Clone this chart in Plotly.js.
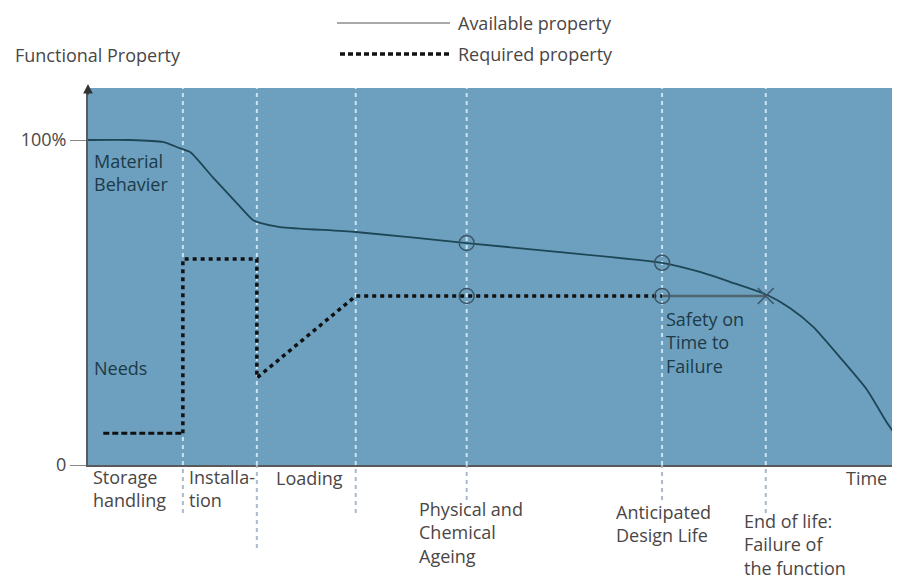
<!DOCTYPE html>
<html>
<head>
<meta charset="utf-8">
<script src="https://cdn.plot.ly/plotly-3.0.1.min.js"></script>
<style>
  body { margin: 0; background: #fff; }
  #chart { width: 901px; height: 581px; }
</style>
</head>
<body>
<div id="chart"></div>
<script>
// time axis is 0..100 (arbitrary units), property axis 0..100 %
const availableX = [0, 5.2, 9.3, 11.4, 12.7, 15.5, 18.5, 20.5, 21.4, 23.9, 33.3, 47.1, 58.7, 71.4, 76.1, 79.9, 84.5, 87.3, 90.2, 93.5, 96.9, 99.4, 101.1];
const availableY = [100, 100, 99.4, 97.5, 96.3, 88.6, 80.6, 75.4, 74.5, 73.2, 71.7, 68.3, 65.5, 62.2, 59.4, 56.3, 52.3, 48.3, 42.5, 33.2, 23.1, 12.9, 7.1];

const requiredX = [1.9, 11.8, 11.8, 21.0, 21.0, 33.3, 71.4];
const requiredY = [9.8, 9.8, 63.4, 63.4, 26.8, 52.0, 52.0];

const safetyX = [71.4, 84.3];
const safetyY = [52.0, 52.0];

const circleX = [47.1, 71.4, 47.1, 71.4];
const circleY = [68.3, 62.2, 52.0, 52.0];

const failureX = [84.3];
const failureY = [52.0];

const stageX = [11.8, 21.0, 33.3, 47.1, 71.4, 84.3];
const stageLabels = ["Storage<br>handling", "Installa-<br>tion", "Loading", "Physical and<br>Chemical<br>Ageing", "Anticipated<br>Design Life", "End of life:<br>Failure of<br>the function"];

const yTicks = [0, 100];
const yTickText = ["0", "100%"];

// layout helpers (pixels -> paper)
const plotLeft = 88, plotRight = 892, plotTop = 88, plotBottom = 465;
const px = p => (p - plotLeft) / (plotRight - plotLeft);
const py = p => (plotBottom - p) / (plotBottom - plotTop);
const dropBottom = [513, 548, 513, 500, 500, 513];
const labelLeft = [92, 188, 275, 418, 615, 743];
const labelMid = [488, 488, 478, 532, 523, 544];

const outText = "#4a4646";
const inText = "#1c3a48";
const font = "Open Sans, Noto Sans, sans-serif";
const fs = 18;

const shapes = [];
stageX.forEach((x, i) => {
  shapes.push({
    type: "line", xref: "x", yref: "paper", x0: x, x1: x, y0: 0, y1: 1,
    line: { color: "rgba(215,234,245,0.9)", width: 2, dash: "4px,4px" }, layer: "below"
  });
  shapes.push({
    type: "line", xref: "x", yref: "paper", x0: x, x1: x, y0: py(dropBottom[i]), y1: 0,
    line: { color: "#aab8c8", width: 2, dash: "4px,4px" }
  });
});
// legend samples
shapes.push({ type: "line", xref: "paper", yref: "paper", x0: px(337), x1: px(450), y0: py(23), y1: py(23), line: { color: "#555", width: 1.2 } });
shapes.push({ type: "line", xref: "paper", yref: "paper", x0: px(340), x1: px(450), y0: py(54), y1: py(54), line: { color: "#111", width: 3.5, dash: "5px,3px" } });

function label(x, y, text, color, anchor) {
  return {
    xref: "paper", yref: "paper", x: px(x), y: py(y), xanchor: anchor || "left", yanchor: "middle",
    align: "left", text: text, showarrow: false, borderpad: 0, font: { size: fs, color: color, family: font }
  };
}

const annotations = [
  label(457, 23, "Available property", outText),
  label(457, 54, "Required property", outText),
  label(14, 55, "Functional Property", outText),
  label(888, 478, "Time", outText, "right"),
  label(93, 172, "Material<br>Behavier", inText),
  label(93, 368, "Needs", inText),
  label(665, 342, "Safety on<br>Time to<br>Failure", inText),
  // y-axis arrow head
  { xref: "paper", yref: "paper", x: 0, y: py(84), ax: 0, ay: 12, text: "", showarrow: true, arrowhead: 2, arrowsize: 1.2, arrowwidth: 1.6, arrowcolor: "#333" }
];
stageLabels.forEach((t, i) => {
  annotations.push(label(labelLeft[i], labelMid[i], t, outText));
});

const traces = [
  {
    type: "scatter", mode: "lines", x: availableX, y: availableY,
    line: { color: "#1d4656", width: 1.8, shape: "spline", smoothing: 0.6 }, hoverinfo: "skip"
  },
  // storage part of the required line is dashed, the rest dotted
  {
    type: "scatter", mode: "lines", x: requiredX.slice(0, 2), y: requiredY.slice(0, 2),
    line: { color: "#111", width: 3, dash: "6px,3px" }, hoverinfo: "skip"
  },
  {
    type: "scatter", mode: "lines", x: requiredX.slice(1), y: requiredY.slice(1),
    line: { color: "#111", width: 3.5, dash: "4px,4px" }, hoverinfo: "skip"
  },
  {
    type: "scatter", mode: "lines", x: safetyX, y: safetyY,
    line: { color: "#4f6473", width: 2.5 }, hoverinfo: "skip"
  },
  {
    type: "scatter", mode: "markers", x: circleX, y: circleY,
    marker: { symbol: "circle-open", size: 15, color: "#3c5566", line: { width: 1.5 } }, hoverinfo: "skip"
  },
  {
    type: "scatter", mode: "markers", x: failureX, y: failureY,
    marker: { symbol: "x-thin-open", size: 16, color: "#3c5566", line: { width: 1.5 } }, hoverinfo: "skip"
  }
];

const layout = {
  width: 901, height: 581,
  margin: { l: 88, r: 9, t: 88, b: 116 },
  paper_bgcolor: "#ffffff",
  plot_bgcolor: "#6da0be",
  showlegend: false,
  font: { family: font, size: fs, color: outText },
  xaxis: {
    range: [0, 100], showgrid: false, zeroline: false, showticklabels: false, ticks: "",
    showline: true, linecolor: "#5a5a5a", linewidth: 2
  },
  yaxis: {
    range: [0, 116], showgrid: false, zeroline: false,
    tickvals: yTicks, ticktext: yTickText, ticks: "outside", ticklen: 16, tickcolor: "#888", tickwidth: 1,
    tickfont: { size: fs, color: outText, family: font },
    showline: true, linecolor: "#5a5a5a", linewidth: 2
  },
  shapes: shapes,
  annotations: annotations
};

Plotly.newPlot("chart", traces, layout, { displayModeBar: false, staticPlot: true });
</script>
</body>
</html>
